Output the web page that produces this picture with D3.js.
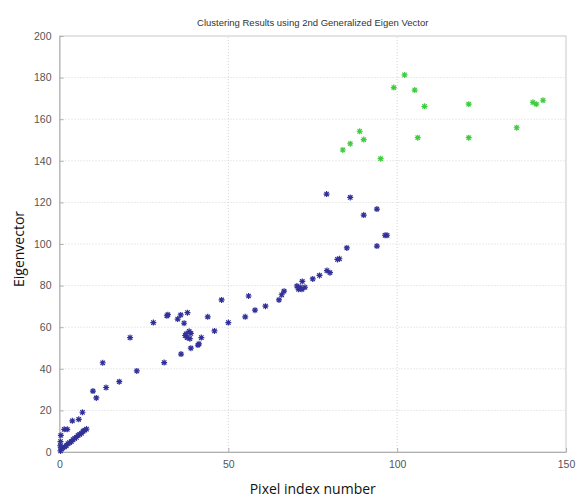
<!DOCTYPE html>
<html>
<head>
<meta charset="utf-8">
<script src="https://cdn.jsdelivr.net/npm/d3@7"></script>
<style>
  body { margin: 0; background: #fff; }
  svg { display: block; }
</style>
</head>
<body>
<div id="chart"></div>
<script>
// cluster 1 (blue) - pixel index vs eigenvector value
let blueX = [0.3, 0.6, 1, 1.5, 2, 2.5, 3, 3.5, 4, 4.5, 5, 5.5, 6, 6.5, 7, 7.5, 8,
             0.2, 0.3, 0.4, 1.4, 2.3, 3.8, 5.7, 6.8,
             9.9, 10.9, 12.8, 13.8, 17.7, 20.9, 22.9, 27.8, 31, 31.8, 32.1,
             35, 35.9, 36.9, 37.9, 36, 37.2, 37.8, 38.4, 38.9, 38.6, 37.5, 38.9, 41, 41.3, 42,
             43.9, 45.9, 48, 50, 55, 56, 57.9, 61, 65, 65.8, 66.5,
             70.3, 70.8, 71.3, 71.8, 72.7, 71.9, 75, 77, 79.2, 80.1, 82.3, 82.9, 85.1,
             94, 96.4, 97, 90.1, 94, 79.1, 86.1];
let blueY = [0.5, 1.5, 2, 2.5, 3, 4, 4.5, 5, 6, 6.5, 7, 8, 8.5, 9, 10, 10.5, 11,
             3, 5, 8, 10.9, 10.9, 15, 15.7, 19.1,
             29.3, 26, 42.9, 31, 33.8, 55, 39, 62.2, 43, 65.5, 66,
             63.9, 65.9, 61.9, 67, 47.1, 56, 55, 58, 57, 54.5, 56.8, 49.9, 51.4, 52, 55,
             65, 58.2, 73.1, 62.2, 65, 75, 68.2, 70.1, 73.1, 75.6, 77.3,
             79.8, 78.2, 79.2, 78.2, 79.2, 82, 83.2, 84.9, 87.2, 86.2, 92.6, 92.9, 98.1,
             99, 104.2, 104.2, 113.9, 116.8, 124, 122.4];

// cluster 2 (green)
let greenX = [83.9, 86.1, 88.9, 90.1, 95.1, 99, 102.2, 105.2, 106.1, 108.1, 121.2, 121.2, 135.4, 140.2, 141.2, 143.2];
let greenY = [145.2, 148.2, 154.2, 150.2, 141, 175.2, 181.3, 174, 151.1, 166.2, 167.2, 151.1, 155.9, 168.1, 167.2, 169.1];

let xTicks = [0, 50, 100, 150];
let yTicks = [0, 20, 40, 60, 80, 100, 120, 140, 160, 180, 200];

let W = 576, H = 499;
let margin = {top: 36, right: 10, bottom: 47, left: 59.5};

let svg = d3.select("#chart").append("svg")
    .attr("width", W).attr("height", H);

let x = d3.scaleLinear().domain([0, 150]).range([margin.left, W - margin.right]);
let y = d3.scaleLinear().domain([0, 200]).range([H - margin.bottom, margin.top]);

// grid
svg.append("g")
    .selectAll("line")
    .data(xTicks.slice(1, -1))
    .enter().append("line")
    .attr("x1", d => x(d)).attr("x2", d => x(d))
    .attr("y1", y(0)).attr("y2", y(200))
    .attr("stroke", "#d4d4d4").attr("stroke-dasharray", "1,2");

svg.append("g")
    .selectAll("line")
    .data(yTicks.slice(1, -1))
    .enter().append("line")
    .attr("y1", d => y(d)).attr("y2", d => y(d))
    .attr("x1", x(0)).attr("x2", x(150))
    .attr("stroke", "#d4d4d4").attr("stroke-dasharray", "1,2");

// box
svg.append("rect")
    .attr("x", x(0)).attr("y", y(200))
    .attr("width", x(150) - x(0)).attr("height", y(0) - y(200))
    .attr("fill", "none").attr("stroke", "#c8c8c8");

// axes
let xAxis = d3.axisBottom(x).tickValues(xTicks).tickSizeInner(-4).tickSizeOuter(0).tickPadding(9);
let yAxis = d3.axisLeft(y).tickValues(yTicks).tickSizeInner(-4).tickSizeOuter(0).tickPadding(8);

let gx = svg.append("g").attr("transform", "translate(0," + y(0) + ")").call(xAxis);
let gy = svg.append("g").attr("transform", "translate(" + x(0) + ",0)").call(yAxis);

[gx, gy].forEach(g => {
    g.select(".domain").attr("stroke", "#b0b0b0");
    g.selectAll(".tick line").attr("stroke", "#b0b0b0");
    g.selectAll(".tick text")
        .attr("fill", "#555")
        .style("font-family", "Liberation Sans, Arial, sans-serif")
        .style("font-size", "10.5px");
});

// MATLAB style '*' marker
let star = "M-3,0H3M0,-3V3M-2.2,-2.2L2.2,2.2M-2.2,2.2L2.2,-2.2";

function drawCluster(xs, ys, col) {
    svg.append("g")
        .selectAll("path")
        .data(xs.map((d, i) => [d, ys[i]]))
        .enter().append("path")
        .attr("d", star)
        .attr("transform", d => "translate(" + x(d[0]) + "," + y(d[1]) + ")")
        .attr("stroke", col).attr("stroke-width", 1.2).attr("fill", "none");
}
drawCluster(blueX, blueY, "#303098");
drawCluster(greenX, greenY, "#40cc40");

// title and labels
svg.append("text")
    .attr("x", (x(0) + x(150)) / 2).attr("y", 26)
    .attr("text-anchor", "middle")
    .style("font-family", "Liberation Sans, Arial, sans-serif")
    .style("font-size", "9.5px").attr("fill", "#333")
    .text("Clustering Results using 2nd Generalized Eigen Vector");

svg.append("text")
    .attr("x", (x(0) + x(150)) / 2).attr("y", 494)
    .attr("text-anchor", "middle")
    .style("font-family", "Open Sans, sans-serif")
    .style("font-size", "14px").attr("fill", "#111")
    .text("Pixel index number");

svg.append("text")
    .attr("transform", "translate(24," + (y(100) + 5) + ") rotate(-90)")
    .attr("text-anchor", "middle")
    .style("font-family", "Open Sans, sans-serif")
    .style("font-size", "14px").attr("fill", "#111")
    .text("Eigenvector");
</script>
</body>
</html>
